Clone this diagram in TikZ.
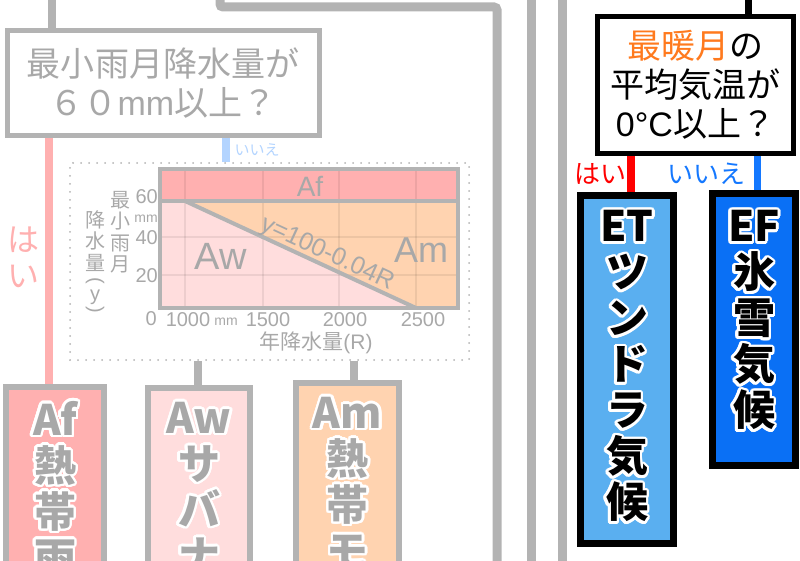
\documentclass[tikz,border=0pt]{standalone}
\usepackage{fontspec}
\setmainfont{Liberation Sans}
\newfontfamily\jp{Noto Sans CJK JP}
\usepackage{contour}
\contourlength{2.5pt}
\contournumber{24}
\usetikzlibrary{positioning, calc, backgrounds}
\definecolor{kgray}{RGB}{179,179,179}
\definecolor{ktext}{RGB}{168,168,168}
\definecolor{kpink}{RGB}{255,176,176}
\definecolor{kpale}{RGB}{255,221,221}
\definecolor{kpeach}{RGB}{255,211,176}
\definecolor{kskyfade}{RGB}{179,212,255}
\definecolor{kred}{RGB}{255,0,0}
\definecolor{kblue}{RGB}{20,120,255}
\definecolor{korange}{RGB}{255,122,30}
\definecolor{etblue}{RGB}{90,175,240}
\definecolor{efblue}{RGB}{10,112,245}
\newcommand{\halo}[1]{\contour{white}{#1}}
\tikzset{
    qbox/.style={rectangle, draw=#1, fill=white, line width=5pt, align=center, inner sep=0pt, font=\jp\fontsize{34}{39}\selectfont},
    climbox/.style={rectangle, draw=#1, line width=6pt, anchor=north, inner sep=0pt, minimum height=300pt},
    bigtxt/.style={anchor=north, align=center, inner sep=0pt, font=\jp\bfseries\fontsize{42}{46}\selectfont, text=#1},
    flow/.style={line width=9pt, draw=#1},
    chartframe/.style={rectangle, draw=kgray, line width=2pt, dash pattern=on 0pt off 8pt, line cap=round, inner sep=0pt},
    plotln/.style={draw=kgray, line width=4pt},
    gridln/.style={draw=black, opacity=0.07, line width=1.5pt},
    zonelbl/.style={text=ktext, inner sep=0pt, font=\fontsize{#1}{#1}\selectfont},
    ticklbl/.style={text=ktext, inner sep=0pt, font=\fontsize{20}{20}\selectfont},
    unitlbl/.style={text=ktext, inner sep=0pt, font=\fontsize{14}{14}\selectfont},
    ylbl/.style={text=ktext, inner sep=0pt, align=center, font=\jp\fontsize{20}{21.5}\selectfont},
    anslbl/.style={inner sep=0pt, align=center, font=\jp\fontsize{#1}{#1}\selectfont}
}
\begin{document}
\begin{tikzpicture}[x=1pt, y=-1pt]
    \path[use as bounding box] (0,0) rectangle (800,561);
    \clip (0,0) rectangle (800,561);

    \coordinate (inA) at (52,-10);
    \coordinate (inB) at (220,-10);
    \coordinate (bendB) at (220,7);
    \coordinate (outB) at (497,575);
    \coordinate (inC) at (531,-10);
    \coordinate (outC) at (531,575);
    \coordinate (inD) at (562,-10);
    \coordinate (outD) at (562,575);
    \coordinate (inE) at (748,-10);
    \coordinate (yesL) at (49,0);
    \coordinate (noL) at (226,0);
    \coordinate (awL) at (198,0);
    \coordinate (amL) at (354,0);
    \coordinate (yesR) at (631,0);
    \coordinate (noR) at (757,0);

    % questions
    \node[qbox=kgray, text=ktext, minimum width=312pt, minimum height=105pt] (q1) at (163,83) {最小雨月降水量が\\６０{\rmfamily mm}以上？};
    \node[qbox=black, text=black, minimum width=196pt, minimum height=137pt] (q2) at (695.5,85) {{\color{korange}最暖月}の\\平均気温が\\{\rmfamily 0°C}以上？};

    % chart
    \node[chartframe, minimum width=399pt, minimum height=197pt] (chart) at (269.5,261.5) {};
    \fill[kpink] (160,169) rectangle (458,201);
    \fill[kpale] (160,201) -- (185,201) -- (416,308) -- (160,308) -- cycle;
    \fill[kpeach] (185,201) -- (458,201) -- (458,308) -- (416,308) -- cycle;
    \foreach \gx in {185,263,339,416}
        \draw[gridln] (\gx,169) -- (\gx,308);
    \foreach \gy in {237,275}
        \draw[gridln] (160,\gy) -- (458,\gy);
    \draw[plotln] (160,201) -- (458,201);
    \draw[plotln] (185,201) -- (416,308);
    \draw[plotln] (160,169) rectangle (458,308);

    \node[zonelbl=28] (zaf) at (310,186) {Af};
    \node[zonelbl=38] (zaw) at (221,256) {Aw};
    \node[zonelbl=36] (zam) at (421,250) {Am};
    \node[zonelbl=25, rotate=-24.8] (zline) at (327,254) {y=100-0.04R};

    \node[ticklbl, anchor=east] (t60) at (158,197) {60};
    \node[unitlbl, anchor=east] (tmm) at (158,219) {mm};
    \node[ticklbl, anchor=east] (t40) at (158,238) {40};
    \node[ticklbl, anchor=east] (t20) at (158,276) {20};
    \node[ticklbl, anchor=east] (t0) at (157,319) {0};
    \node[ticklbl] (r1000) at (188,320) {1000};
    \node[unitlbl] (rmm) at (226,322) {mm};
    \node[ticklbl] (r1500) at (268,320) {1500};
    \node[ticklbl] (r2000) at (345,320) {2000};
    \node[ticklbl] (r2500) at (423,320) {2500};
    \node[ylbl, font=\jp\fontsize{21}{21}\selectfont] (xcap) at (316,343) {年降水量{\rmfamily (R)}};
    \node[ylbl] (ycap1) at (120,232) {最\\小\\雨\\月};
    \node[ylbl, anchor=north] (ycap2) at (95,210) {降\\水\\量};
    \node[ylbl, rotate=-90, font=\fontsize{20}{20}\selectfont] (yopen) at (95,281) {(};
    \node[ylbl, font=\fontsize{20}{20}\selectfont] (yvar) at (95,297) {y};
    \node[ylbl, rotate=-90, font=\fontsize{20}{20}\selectfont] (yclose) at (95,310) {)};

    % climates
    \node[climbox=kgray, fill=kpink, minimum width=98pt] (af) at (55,384) {};
    \node[climbox=kgray, fill=kpale, minimum width=102pt] (aw) at (199,385) {};
    \node[climbox=kgray, fill=kpeach, minimum width=103pt] (am) at (347.5,380) {};
    \node[climbox=black, fill=etblue, line width=7pt, minimum width=93pt, minimum height=347pt] (et) at (627,192.5) {};
    \node[climbox=black, fill=efblue, line width=7pt, minimum width=83pt, minimum height=271pt] (ef) at (754,190.5) {};

    \node[bigtxt=ktext, below=17pt of af.north] (aftxt) {\halo{Af}\\\halo{熱}\\\halo{帯}\\\halo{雨}};
    \node[bigtxt=ktext, below=17pt of aw.north] (awtxt) {\halo{Aw}\\\halo{サ}\\\halo{バ}\\\halo{ナ}};
    \node[bigtxt=ktext, below=17pt of am.north] (amtxt) {\halo{Am}\\\halo{熱}\\\halo{帯}\\\halo{モ}};
    \node[bigtxt=black, below=18pt of et.north] (ettxt) {\halo{ET}\\\halo{ツ}\\\halo{ン}\\\halo{ド}\\\halo{ラ}\\\halo{気}\\\halo{候}};
    \node[bigtxt=black, below=20pt of ef.north] (eftxt) {\halo{EF}\\\halo{氷}\\\halo{雪}\\\halo{気}\\\halo{候}};

    % answers
    \node[anslbl=32, text=kpink, font=\jp\fontsize{32}{36}\selectfont] (yes1) at (23,257) {は\\い};
    \node[anslbl=15, text=kskyfade] (no1) at (257,150) {いいえ};
    \node[anslbl=26, text=kred] (yes2) at (600,174) {はい};
    \node[anslbl=26, text=kblue] (no2) at (706,174) {いいえ};

    \begin{scope}[on background layer]
        \draw[flow=kgray, rounded corners=3pt] (inB) -- (bendB) -- (bendB -| outB) -- (outB);
        \draw[flow=kgray] (inC) -- (outC);
        \draw[flow=kgray] (inD) -- (outD);
        \draw[flow=kgray, line width=8pt] (inA) -- (inA |- q1.north);
        \draw[flow=black, line width=7pt] (inE) -- (inE |- q2.north);
        \draw[flow=kpink, line width=8pt] (q1.south -| yesL) -- (af.north -| yesL);
        \draw[flow=kskyfade, line width=8pt] (q1.south -| noL) -- (chart.north -| noL);
        \draw[flow=kgray, line width=8pt] (chart.south -| awL) -- (aw.north -| awL);
        \draw[flow=kgray, line width=8pt] (chart.south -| amL) -- (am.north -| amL);
        \draw[flow=kred, line width=8pt] (q2.south -| yesR) -- (et.north -| yesR);
        \draw[flow=kblue, line width=7pt] (q2.south -| noR) -- (ef.north -| noR);
    \end{scope}
\end{tikzpicture}
\end{document}
